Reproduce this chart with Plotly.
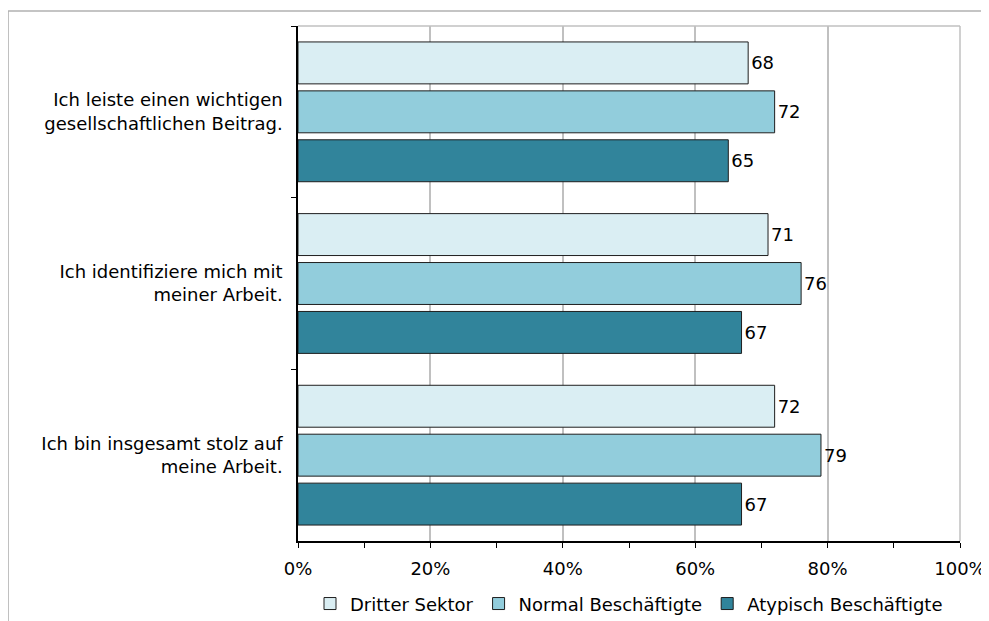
import plotly.graph_objects as go

categories = [
    "Ich leiste einen wichtigen<br>gesellschaftlichen Beitrag.",
    "Ich identifiziere mich mit<br>meiner Arbeit.",
    "Ich bin insgesamt stolz auf<br>meine Arbeit.",
]
series_names = ["Dritter Sektor", "Normal Beschäftigte", "Atypisch Beschäftigte"]
dritter_sektor = [68, 71, 72]
normal_beschaeftigte = [72, 76, 79]
atypisch_beschaeftigte = [65, 67, 67]
x_tick_values = [0, 20, 40, 60, 80, 100]
x_tick_labels = ["0%", "20%", "40%", "60%", "80%", "100%"]

colors = ["#DAEEF3", "#92CDDC", "#31849B"]
FONT = "DejaVu Sans"
FS = 18

fig = go.Figure()
for name, vals, col in zip(series_names,
                           [dritter_sektor, normal_beschaeftigte, atypisch_beschaeftigte],
                           colors):
    fig.add_trace(go.Bar(
        y=categories, x=vals, name=name, orientation="h",
        marker=dict(color=col, line=dict(color="#1e1e1e", width=1)),
        text=[str(v) for v in vals], textposition="outside",
        textfont=dict(family=FONT, size=FS, color="black"),
        cliponaxis=False,
    ))

fig.update_layout(
    width=981, height=613,
    margin=dict(l=290, r=29, t=18, b=80, autoexpand=False),
    paper_bgcolor="white", plot_bgcolor="white",
    barmode="group", bargap=0.145, bargroupgap=0.143,
    font=dict(family=FONT, size=FS, color="black"),
    showlegend=True,
    legend=dict(orientation="h", x=0.5, xanchor="center",
                yref="container", y=0.028, yanchor="middle",
                font=dict(family=FONT, size=FS, color="black"),
                itemwidth=30, traceorder="normal"),
    xaxis=dict(range=[0, 100], tickvals=x_tick_values, ticktext=x_tick_labels,
               showgrid=True, gridcolor="#c0c0c0", gridwidth=1.5,
               showline=True, linecolor="black", linewidth=1.5,
               ticks="outside", ticklen=5, tickcolor="black", tickwidth=1,
               ticklabelstandoff=6, automargin=False,
               minor=dict(dtick=10, ticks="outside", ticklen=5, tickcolor="black", showgrid=False),
               zeroline=False, fixedrange=True),
    yaxis=dict(autorange="reversed", showgrid=False,
               showline=True, linecolor="black", linewidth=1.5,
               ticks="outside", ticklen=5, tickcolor="black", tickson="boundaries",
               ticklabelstandoff=10, zeroline=False, automargin=False),
    shapes=[
        dict(type="line", xref="paper", yref="paper", x0=0, x1=1, y0=1, y1=1,
             line=dict(color="#c0c0c0", width=1.5), layer="below"),
        dict(type="line", xref="paper", yref="paper", x0=1, x1=1, y0=0, y1=1,
             line=dict(color="#c0c0c0", width=1.5), layer="below"),
        dict(type="line", xref="paper", yref="paper", x0=-0.438, x1=1.1, y0=1.029, y1=1.029,
             line=dict(color="#b0b0b0", width=1.5)),
        dict(type="line", xref="paper", yref="paper", x0=-0.438, x1=-0.438, y0=-0.2, y1=1.029,
             line=dict(color="#b0b0b0", width=1.5)),
    ],
)

fig.write_html("out.html")
